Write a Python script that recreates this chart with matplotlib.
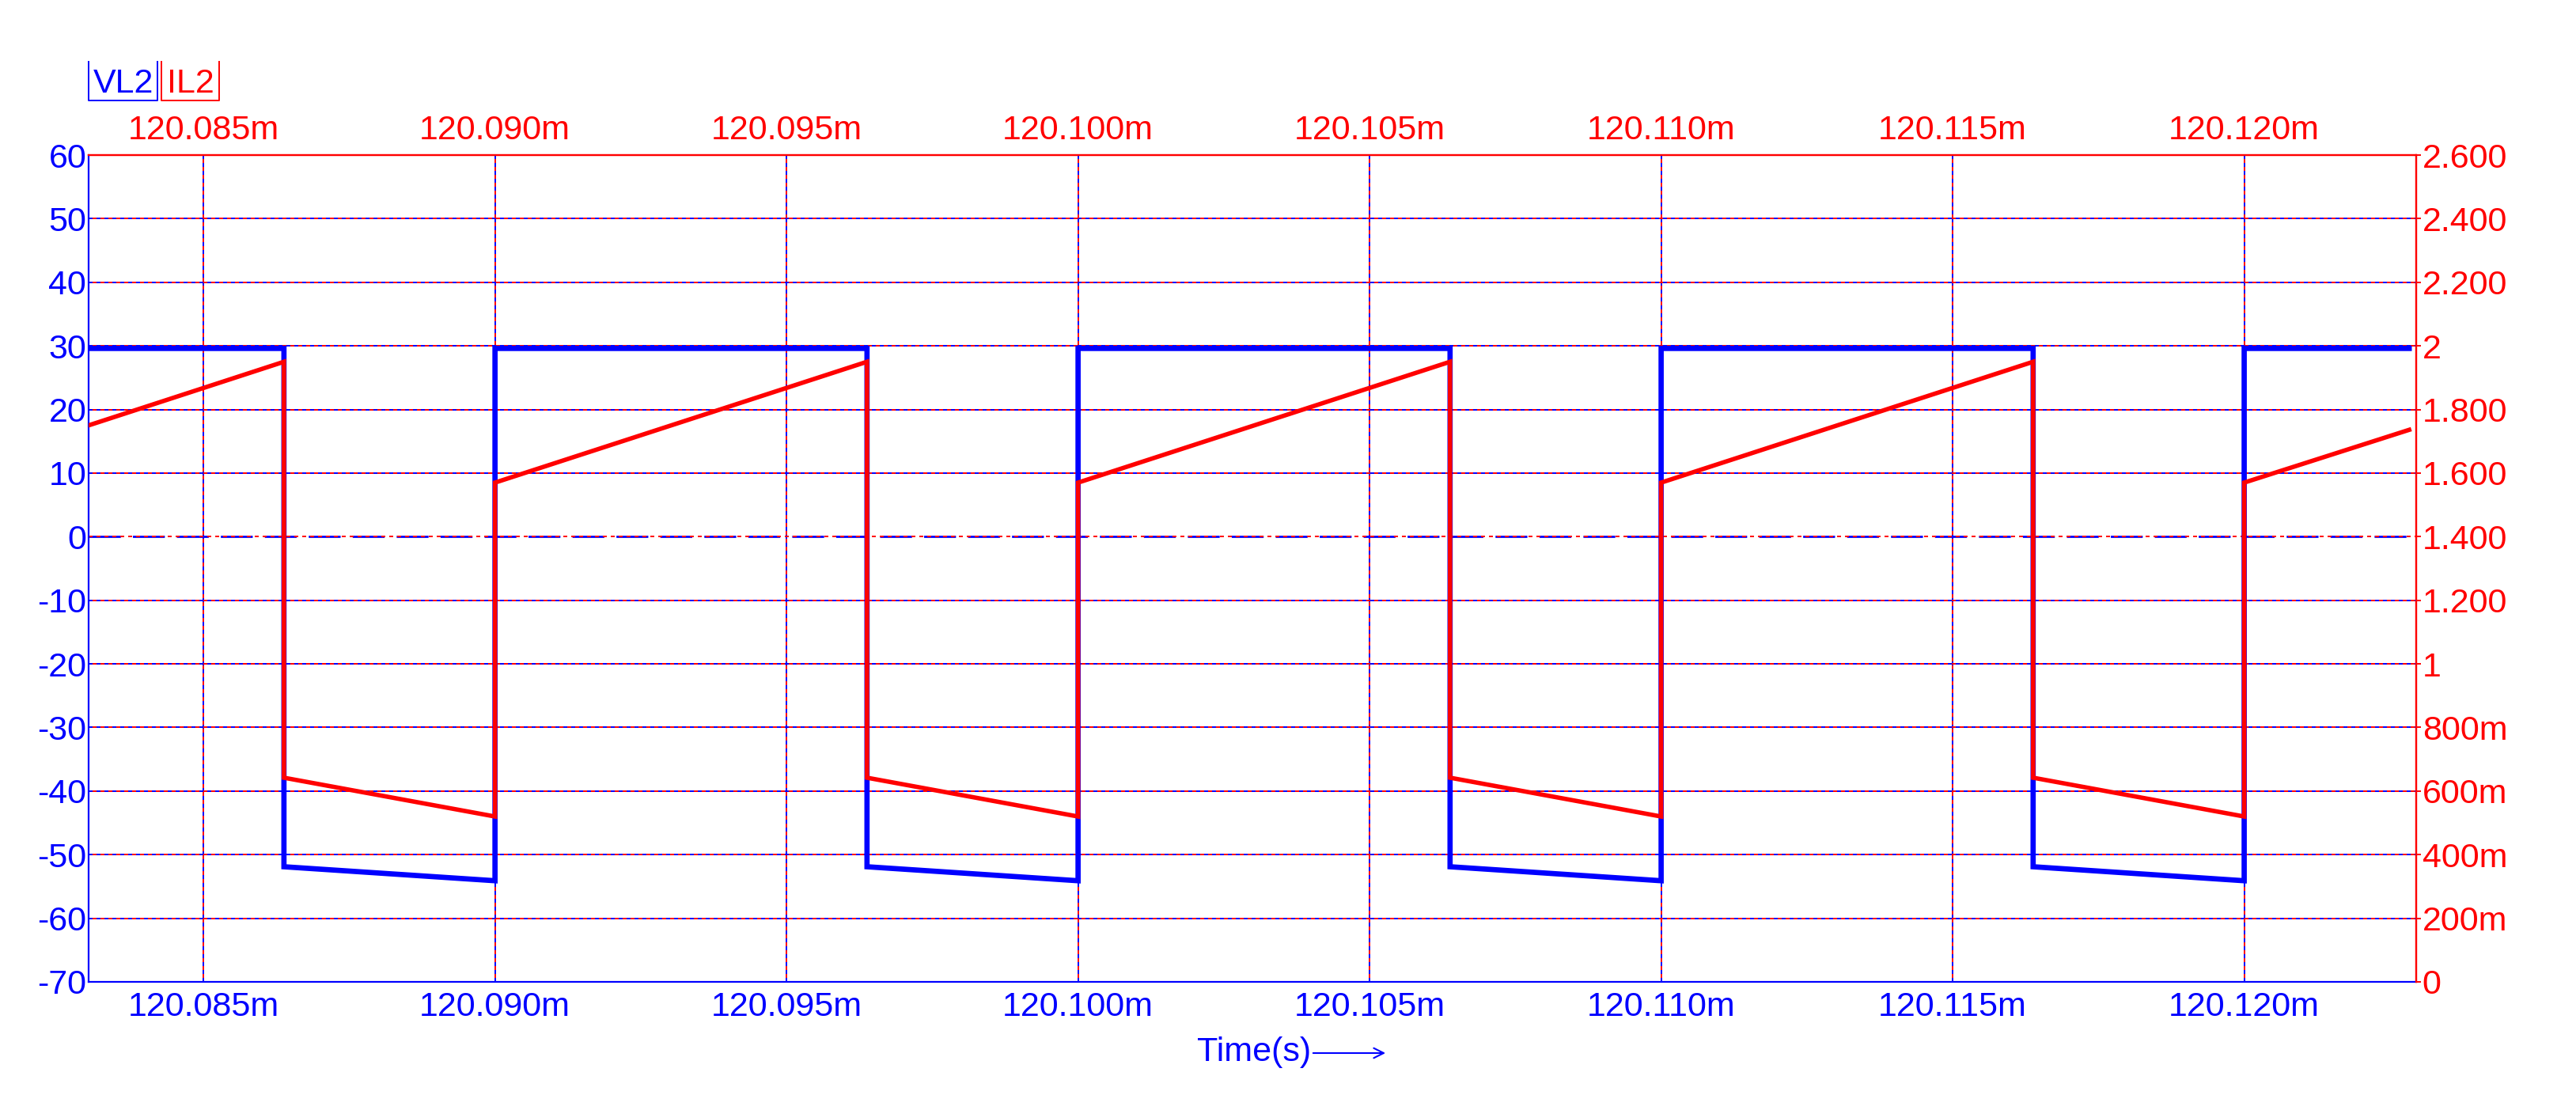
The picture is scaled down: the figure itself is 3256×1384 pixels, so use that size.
import matplotlib
matplotlib.use("Agg")
import matplotlib.pyplot as plt
from matplotlib.lines import Line2D
from matplotlib.patches import FancyArrowPatch

plt.rcParams['font.family'] = ['Liberation Sans', 'DejaVu Sans']
plt.rcParams['lines.scale_dashes'] = False

BLUE = '#0000ff'
RED = '#ff0000'
FS = 31

# time axis in ms
x_ticks = [120.085, 120.090, 120.095, 120.100, 120.105, 120.110, 120.115, 120.120]
x_labels = ['120.085m', '120.090m', '120.095m', '120.100m', '120.105m', '120.110m', '120.115m', '120.120m']
x_lim = (120.08303, 120.12295)

v_ticks = [-70, -60, -50, -40, -30, -20, -10, 0, 10, 20, 30, 40, 50, 60]
i_ticks = [0, 0.2, 0.4, 0.6, 0.8, 1.0, 1.2, 1.4, 1.6, 1.8, 2.0, 2.2, 2.4, 2.6]
i_labels = ['0', '200m', '400m', '600m', '800m', '1', '1.200', '1.400', '1.600',
            '1.800', '2', '2.200', '2.400', '2.600']

# VL2 (V) - switching waveform
vl2_t = [120.08303, 120.08638, 120.08638, 120.09000, 120.09000,
         120.09638, 120.09638, 120.10000, 120.10000,
         120.10638, 120.10638, 120.11000, 120.11000,
         120.11638, 120.11638, 120.12000, 120.12000, 120.12283]
vl2_v = [29.6, 29.6, -51.9, -54.1, 29.6,
         29.6, -51.9, -54.1, 29.6,
         29.6, -51.9, -54.1, 29.6,
         29.6, -51.9, -54.1, 29.6, 29.6]

# IL2 (A)
il2_t = vl2_t
il2_i = [1.75, 1.95, 0.642, 0.52, 1.57,
         1.95, 0.642, 0.52, 1.57,
         1.95, 0.642, 0.52, 1.57,
         1.95, 0.642, 0.52, 1.57, 1.736]

W, H = 3256, 1384
fig = plt.figure(figsize=(W / 100, H / 100), dpi=100)
L, R, T, B = 112, 3054, 196, 1241
ax = fig.add_axes([L / W, 1 - B / H, (R - L) / W, (B - T) / H])
ax2 = ax.twinx()

ax.set_xlim(*x_lim)
ax.set_ylim(-70, 60)
ax2.set_ylim(0, 2.6)

# grid: overlapping blue and red dashed lines
GW = 1.4
for v in v_ticks[1:-1]:
    if v == 0:
        ax.axhline(v, color=BLUE, lw=2.0, linestyle=(0, (29, 11)), zorder=1)
        ax.axhline(v, color=RED, lw=GW, linestyle=(0, (3.6, 3.6)), zorder=1.1)
    else:
        ax.axhline(v, color=BLUE, lw=GW, linestyle=(0, (3.6, 3.6)), zorder=1)
        ax.axhline(v, color=RED, lw=GW, linestyle=(3.6, (3.6, 3.6)), zorder=1.1)
for xt in x_ticks:
    ax.axvline(xt, color=BLUE, lw=GW, linestyle=(0, (3.6, 3.6)), zorder=1)
    ax.axvline(xt, color=RED, lw=GW, linestyle=(3.6, (3.6, 3.6)), zorder=1.1)

ax.plot(vl2_t, vl2_v, color=BLUE, lw=4.8, solid_joinstyle='miter', zorder=3)
ax2.plot(il2_t, il2_i, color=RED, lw=4.0, solid_joinstyle='miter', zorder=3)

# spines
for s in ['left', 'bottom']:
    ax.spines[s].set_color(BLUE)
    ax.spines[s].set_linewidth(1.6)
for s in ['top', 'right']:
    ax.spines[s].set_color(RED)
    ax.spines[s].set_linewidth(1.6)
for s in ['left', 'top', 'bottom']:
    ax2.spines[s].set_visible(False)
ax2.spines['right'].set_color(RED)
ax2.spines['right'].set_linewidth(1.6)

# bottom x ticks (blue)
ax.set_xticks(x_ticks)
ax.set_xticklabels(x_labels)
ax.tick_params(axis='x', colors=BLUE, labelsize=FS, length=0, pad=9)
# left y ticks (blue)
ax.set_yticks(v_ticks)
ax.set_yticklabels([str(v) for v in v_ticks])
ax.tick_params(axis='y', colors=BLUE, labelsize=FS, length=0, pad=2)
# right y ticks (red)
ax2.set_yticks(i_ticks)
ax2.set_yticklabels(i_labels)
ax2.tick_params(axis='y', colors=RED, labelsize=FS, length=4.5, width=1.4,
                pad=1, direction='out')
# top x ticks (red)
sec = ax.secondary_xaxis('top')
sec.set_xticks(x_ticks)
sec.set_xticklabels(x_labels)
sec.tick_params(axis='x', colors=RED, labelsize=FS, length=0, pad=8)
sec.spines['top'].set_color(RED)
sec.spines['top'].set_linewidth(1.6)


def px(x, y):
    return x / W, 1 - y / H


# legend labels with open-top boxes
for name, color, x0, x1 in [('VL2', BLUE, 112, 199), ('IL2', RED, 204, 277)]:
    fx, fy = px((x0 + x1) / 2, 117)
    fig.text(fx, fy, name, color=color, fontsize=FS, ha='center', va='baseline')
    xs = [x0, x0, x1, x1]
    ys = [78, 127, 127, 78]
    fig.add_artist(Line2D([x / W for x in xs], [1 - y / H for y in ys],
                          color=color, lw=1.4, transform=fig.transFigure))

# time label with arrow
tx, ty = px(1513, 1330)
fig.text(tx, ty, 'Time(s)', color=BLUE, fontsize=FS, ha='left', va='center')
fig.add_artist(FancyArrowPatch(
    px(1657, 1331), px(1754, 1331), transform=fig.transFigure,
    arrowstyle='->,head_length=6,head_width=3',
    color=BLUE, lw=1.5, mutation_scale=1.5))

fig.savefig('out.png', dpi=100, facecolor='white')
